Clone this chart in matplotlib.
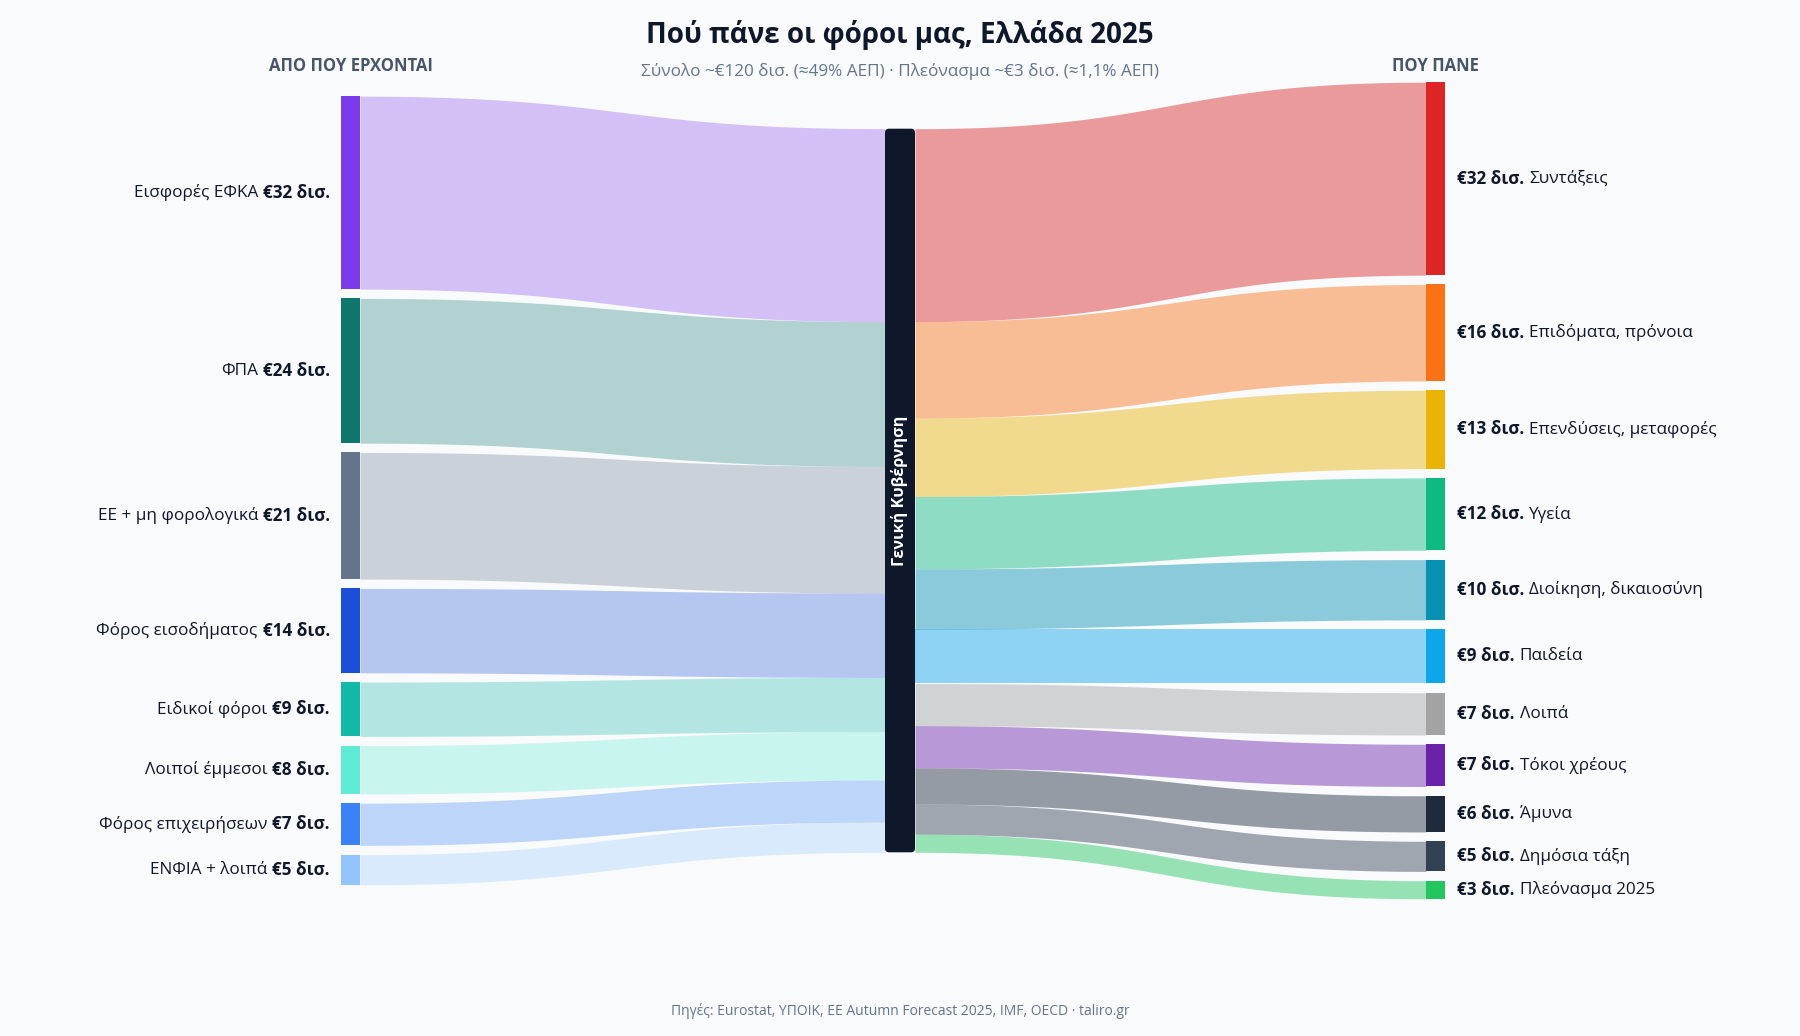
import numpy as np
import matplotlib.pyplot as plt
from matplotlib.patches import FancyBboxPatch, Rectangle

plt.rcParams['font.family'] = ['Open Sans', 'DejaVu Sans']

# data (billions EUR)
src_names = ['Εισφορές ΕΦΚΑ', 'ΦΠΑ', 'ΕΕ + μη φορολογικά', 'Φόρος εισοδήματος',
             'Ειδικοί φόροι', 'Λοιποί έμμεσοι', 'Φόρος επιχειρήσεων', 'ΕΝΦΙΑ + λοιπά']
src_vals = [32, 24, 21, 14, 9, 8, 7, 5]
src_colors = ['#7c3aed', '#0f766e', '#64748b', '#1d4ed8',
              '#14b8a6', '#5eead4', '#3b82f6', '#93c5fd']

dst_names = ['Συντάξεις', 'Επιδόματα, πρόνοια', 'Επενδύσεις, μεταφορές', 'Υγεία',
             'Διοίκηση, δικαιοσύνη', 'Παιδεία', 'Λοιπά', 'Τόκοι χρέους',
             'Άμυνα', 'Δημόσια τάξη', 'Πλεόνασμα 2025']
dst_vals = [32, 16, 13, 12, 10, 9, 7, 7, 6, 5, 3]
dst_colors = ['#dc2626', '#f97316', '#eab308', '#10b981', '#0891b2', '#0ea5e9',
              '#a3a3a3', '#6b21a8', '#1e293b', '#334155', '#22c55e']

hub_name = 'Γενική Κυβέρνηση'
title = 'Πού πάνε οι φόροι μας, Ελλάδα 2025'
subtitle = 'Σύνολο ~€120 δισ. (≈49% ΑΕΠ) · Πλεόνασμα ~€3 δισ. (≈1,1% ΑΕΠ)'
footer = 'Πηγές: Eurostat, ΥΠΟΙΚ, ΕΕ Autumn Forecast 2025, IMF, OECD · taliro.gr'

bg = '#f8fafc'
dark = '#0f172a'
W, H = 1800, 1036

# layout (pixel units)
k = 6.03      # px per billion
gap = 9.3
ymid = 490.5
xl, xc, xr = 341, 885, 1426
wl, wc, wr = 19, 30, 19


def stack(vals, g):
    hs = np.array(vals) * k
    total = hs.sum() + g * (len(vals) - 1)
    tops = ymid - total / 2 + np.concatenate([[0], np.cumsum(hs + g)[:-1]])
    return tops, hs


def link(ax, x0, x1, y0a, y0b, y1a, y1b, color, alpha):
    t = np.linspace(0, 1, 120)
    xm = (x0 + x1) / 2
    bx = (1-t)**3*x0 + 3*(1-t)**2*t*xm + 3*(1-t)*t**2*xm + t**3*x1
    f = (1-t)**3 + 3*(1-t)**2*t
    ya = f*y0a + (1-f)*y1a
    yb = f*y0b + (1-f)*y1b
    ax.fill_between(bx, ya, yb, color=color, alpha=alpha, lw=0, zorder=1)


fig = plt.figure(figsize=(W/100, H/100), dpi=100, facecolor=bg)
ax = fig.add_axes([0, 0, 1, 1])
ax.set_xlim(0, W)
ax.set_ylim(H, 0)
ax.axis('off')
ax.set_facecolor(bg)

s_tops, s_h = stack(src_vals, gap)
d_tops, d_h = stack(dst_vals, gap)
c_h = sum(src_vals) * k
c_top = ymid - c_h / 2

# links
cy = c_top
for top, h, col in zip(s_tops, s_h, src_colors):
    link(ax, xl + wl, xc, top, top + h, cy, cy + h, col, 0.3)
    cy += h
cy = c_top
for top, h, col in zip(d_tops, d_h, dst_colors):
    link(ax, xc + wc, xr, cy, cy + h, top, top + h, col, 0.45)
    cy += h

# nodes
for top, h, col in zip(s_tops, s_h, src_colors):
    ax.add_patch(Rectangle((xl, top), wl, h, color=col, lw=0, zorder=3))
for top, h, col in zip(d_tops, d_h, dst_colors):
    ax.add_patch(Rectangle((xr, top), wr, h, color=col, lw=0, zorder=3))
ax.add_patch(FancyBboxPatch((xc, c_top), wc, c_h, boxstyle='round,pad=0,rounding_size=4',
                            fc=dark, ec='none', zorder=3))
ax.text(xc + wc/2, ymid, hub_name, rotation=90, color='white', fontsize=11.6,
        fontweight='bold', ha='center', va='center', zorder=4)

# labels
fig.canvas.draw()
rend = fig.canvas.get_renderer()
fs = 12.3
for top, h, name, v in zip(s_tops, s_h, src_names, src_vals):
    yc = top + h/2
    tb = ax.text(330, yc, f'€{v} δισ.', fontsize=fs, fontweight='bold', color=dark,
                 ha='right', va='center')
    w = tb.get_window_extent(rend).width
    ax.text(330 - w - 5, yc, name, fontsize=fs, color=dark, ha='right', va='center')
for top, h, name, v in zip(d_tops, d_h, dst_names, dst_vals):
    yc = top + h/2
    tb = ax.text(1457, yc, f'€{v} δισ.', fontsize=fs, fontweight='bold', color=dark,
                 ha='left', va='center')
    w = tb.get_window_extent(rend).width
    ax.text(1457 + w + 5, yc, name, fontsize=fs, color=dark, ha='left', va='center')

ax.text(W/2, 35, title, fontsize=20, fontweight='bold', color=dark, ha='center', va='center')
ax.text(W/2, 71, subtitle, fontsize=12.3, color='#64748b', ha='center', va='center')
ax.text(xl + wl/2, 66, 'ΑΠΟ ΠΟΥ ΕΡΧΟΝΤΑΙ', fontsize=12, fontweight='bold',
        color='#475569', ha='center', va='center')
ax.text(xr + wr/2, 66, 'ΠΟΥ ΠΑΝΕ', fontsize=12, fontweight='bold',
        color='#475569', ha='center', va='center')
ax.text(W/2, 1011, footer, fontsize=10, color='#64748b', ha='center', va='center')

fig.savefig('out.png', dpi=100, facecolor=bg)
